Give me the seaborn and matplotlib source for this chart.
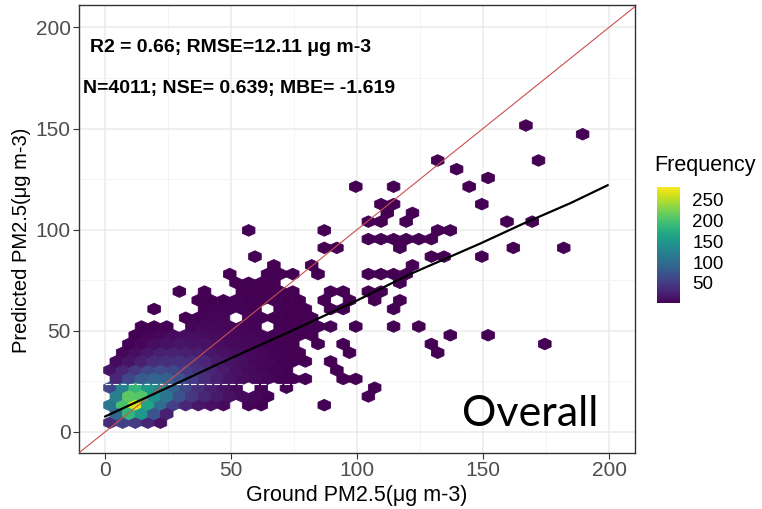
import numpy as np
import pandas as pd
import matplotlib
matplotlib.use("Agg")
import matplotlib.pyplot as plt
import seaborn as sns

# predicted PM2.5 at the centre of each hexagon row (rows with data only)
row_y = [4.60, 8.92, 13.24, 17.56, 21.88, 26.20, 30.52, 34.84, 39.16, 43.48,
         47.80, 52.12, 56.44, 60.76, 65.08, 69.40, 73.72, 78.04, 82.36, 86.68,
         91.00, 95.32, 99.64, 103.96, 108.28, 112.60, 121.24, 125.56, 129.88,
         134.20, 147.16, 151.48]

# ground PM2.5 at the centre of each filled hexagon of the row
row_x = [
    [2, 7, 12, 17, 22],
    [4.5, 9.5, 14.5, 19.5, 24.5],
    [2, 7, 12, 17, 22, 27, 32, 37, 42, 47, 57, 62, 87],
    [4.5, 9.5, 14.5, 19.5, 24.5, 29.5, 34.5, 39.5, 44.5, 49.5, 54.5, 59.5, 64.5, 104.5],
    [2, 7, 12, 17, 22, 27, 32, 37, 42, 47, 52, 62, 72, 107],
    [4.5, 9.5, 14.5, 19.5, 24.5, 29.5, 34.5, 39.5, 44.5, 49.5, 54.5, 59.5, 64.5, 69.5, 74.5, 79.5, 94.5, 99.5],
    [2, 7, 12, 17, 22, 27, 32, 37, 42, 47, 52, 57, 62, 67, 72, 92],
    [4.5, 9.5, 14.5, 19.5, 24.5, 29.5, 34.5, 39.5, 44.5, 49.5, 54.5, 59.5, 64.5, 69.5, 74.5, 79.5, 89.5],
    [7, 12, 17, 22, 27, 32, 37, 42, 47, 52, 57, 62, 67, 72, 77, 97, 132],
    [9.5, 14.5, 19.5, 24.5, 29.5, 34.5, 39.5, 44.5, 49.5, 54.5, 59.5, 64.5, 69.5, 74.5, 84.5, 94.5, 129.5, 174.5],
    [12, 17, 22, 27, 32, 37, 42, 47, 52, 57, 62, 67, 72, 77, 82, 137, 152],
    [14.5, 19.5, 24.5, 34.5, 39.5, 44.5, 49.5, 54.5, 59.5, 69.5, 74.5, 79.5, 84.5, 89.5, 99.5, 114.5, 124.5],
    [32, 37, 42, 47, 57, 62, 67, 72, 77, 82],
    [19.5, 39.5, 44.5, 49.5, 54.5, 59.5, 69.5, 74.5, 79.5, 89.5, 94.5, 114.5],
    [37, 42, 47, 52, 57, 62, 67, 72, 77, 87, 97, 107, 117],
    [29.5, 39.5, 54.5, 59.5, 64.5, 69.5, 74.5, 89.5, 94.5, 104.5, 109.5],
    [52, 57, 62, 67, 117],
    [49.5, 64.5, 69.5, 74.5, 84.5, 104.5, 109.5, 114.5, 119.5],
    [67, 82, 122],
    [59.5, 129.5, 134.5, 149.5],
    [87, 92, 117, 162, 182],
    [104.5, 109.5, 114.5, 119.5, 124.5, 129.5],
    [57, 87, 132, 137],
    [104.5, 109.5, 119.5, 159.5, 169.5],
    [112, 122],
    [109.5, 114.5, 149.5],
    [99.5, 114.5, 144.5],
    [152],
    [139.5],
    [132, 172],
    [189.5],
    [167],
]

# number of observations falling in each hexagon
row_n = [
    [35, 55, 50, 30, 12],
    [95, 185, 150, 75, 25],
    [110, 200, 268, 165, 100, 55, 30, 18, 12, 8, 4, 2, 1],
    [120, 210, 205, 140, 110, 70, 45, 30, 20, 12, 8, 5, 2, 1],
    [60, 125, 185, 150, 130, 90, 60, 40, 25, 15, 8, 3, 1, 1],
    [30, 60, 80, 90, 85, 70, 50, 35, 25, 15, 10, 8, 5, 3, 2, 1, 1, 1],
    [15, 30, 45, 60, 65, 60, 50, 40, 30, 20, 12, 8, 5, 3, 2, 1],
    [8, 15, 25, 35, 40, 40, 35, 30, 20, 15, 10, 6, 4, 3, 2, 1, 1],
    [5, 10, 18, 25, 28, 25, 22, 18, 14, 10, 7, 5, 3, 2, 1, 1, 1],
    [3, 6, 10, 14, 16, 15, 13, 10, 8, 6, 5, 3, 2, 1, 1, 1, 1, 1],
    [2, 4, 6, 9, 10, 10, 9, 8, 6, 5, 4, 3, 2, 1, 1, 1, 1],
    [1, 2, 3, 5, 6, 6, 5, 4, 3, 2, 2, 1, 1, 1, 1, 1, 1],
    [2, 3, 4, 4, 3, 3, 2, 2, 1, 1],
    [1, 2, 3, 3, 3, 2, 2, 1, 1, 1, 1, 1],
    [1, 2, 2, 3, 2, 2, 2, 1, 1, 1, 1, 1, 1],
    [1, 1, 2, 2, 1, 1, 1, 1, 1, 1, 1],
    [1, 1, 1, 1, 1],
    [1, 1, 1, 1, 1, 1, 1, 1, 1],
    [1, 1, 1],
    [1, 1, 1, 1],
    [1, 1, 1, 1, 1],
    [1, 1, 1, 1, 1, 1],
    [1, 1, 1, 1],
    [1, 1, 1, 1, 1],
    [1, 1],
    [1, 1, 1],
    [1, 1, 1],
    [1],
    [1],
    [1, 1],
    [1],
    [1],
]

# fitted line (ground vs predicted)
fit_x = [0, 25, 50, 75, 100, 121, 149, 166, 185, 199.5]
fit_y = [7.6, 22.0, 36.5, 50.5, 65.0, 78.0, 93.2, 103.0, 113.3, 122.0]
one_to_one = [-20, 220]

# white gap between two hexagon rows
gap_x = [0, 76]
gap_y = 23.7

r2, rmse = 0.66, 12.11
n_obs, nse, mbe = 4011, 0.639, -1.619

axis_ticks = [0, 50, 100, 150, 200]
minor_ticks = [25, 75, 125, 175]
freq_ticks = [50, 100, 150, 200, 250]


def main():
    cells = pd.DataFrame({
        "ground": [x for xs in row_x for x in xs],
        "predicted": [y for y, xs in zip(row_y, row_x) for _ in xs],
        "freq": [n for ns in row_n for n in ns],
    })

    sns.set_theme(style="whitegrid")
    plt.rcParams["font.family"] = ["Liberation Sans", "DejaVu Sans"]
    plt.rcParams["text.color"] = "black"

    fig = plt.figure(figsize=(7.62, 5.09), dpi=100)
    ax = fig.add_axes([0.1037, 0.110, 0.7297, 0.880])

    hb = ax.hexbin(cells["ground"], cells["predicted"], C=cells["freq"],
                   reduce_C_function=np.sum, gridsize=(42, 19),
                   extent=(-3, 207, -4.04, 160.12), cmap="viridis",
                   vmin=1, vmax=280, zorder=2)
    hb.set_edgecolor("face")
    hb.set_linewidth(0.6)

    ax.plot(gap_x, [gap_y, gap_y], color="white", lw=0.8,
            ls=(0, (5, 2)), zorder=3)

    sns.lineplot(x=one_to_one, y=one_to_one, color="#c8504f", lw=0.8,
                 ax=ax, zorder=4)
    sns.lineplot(x=fit_x, y=fit_y, color="black", lw=1.6, ax=ax, zorder=5)

    ax.set_xlim(-10.3, 210.3)
    ax.set_ylim(-10.4, 211)
    ax.set_xticks(axis_ticks)
    ax.set_yticks(axis_ticks)
    ax.set_xticks(minor_ticks, minor=True)
    ax.set_yticks(minor_ticks, minor=True)
    ax.set_axisbelow(True)
    ax.grid(which="major", color="#EBEBEB", lw=1.1)
    ax.grid(which="minor", color="#F2F2F2", lw=0.6)
    ax.tick_params(which="major", length=4, width=0.8, color="#333333",
                   labelsize=15, labelcolor="#4D4D4D", pad=2,
                   bottom=True, left=True)
    ax.tick_params(which="minor", length=0)
    for sp in ax.spines.values():
        sp.set_color("#333333")
        sp.set_linewidth(1.0)

    ax.set_xlabel("Ground PM2.5(μg m-3)", fontsize=15.5, color="black",
                  labelpad=3)
    ax.set_ylabel("Predicted PM2.5(μg m-3)", fontsize=14.5, color="black")
    ax.yaxis.set_label_coords(-0.086, 0.475)

    ax.text(-6, 190, f"R2 = {r2}; RMSE={rmse} μg m-3", fontsize=14,
            fontweight="bold", va="center", ha="left")
    ax.text(-8.7, 170, f"N={n_obs}; NSE= {nse}; MBE= {mbe}", fontsize=14,
            fontweight="bold", va="center", ha="left")
    ax.text(141.7, 9, "Overall", fontsize=31, family=["Lato", "DejaVu Sans"],
            va="center", ha="left")

    cax = fig.add_axes([0.862, 0.404, 0.030, 0.229])
    cb = fig.colorbar(hb, cax=cax, ticks=freq_ticks)
    cb.outline.set_visible(False)
    cax.tick_params(direction="in", length=4, width=0.8, color="white",
                    left=True, right=True, labelleft=False, labelright=True,
                    labelsize=13.5, labelcolor="black", pad=9)
    fig.text(0.859, 1 - 165 / 509, "Frequency", fontsize=15.5, va="center",
             ha="left")

    fig.savefig("out.png", dpi=100)
    plt.close(fig)


if __name__ == "__main__":
    main()
